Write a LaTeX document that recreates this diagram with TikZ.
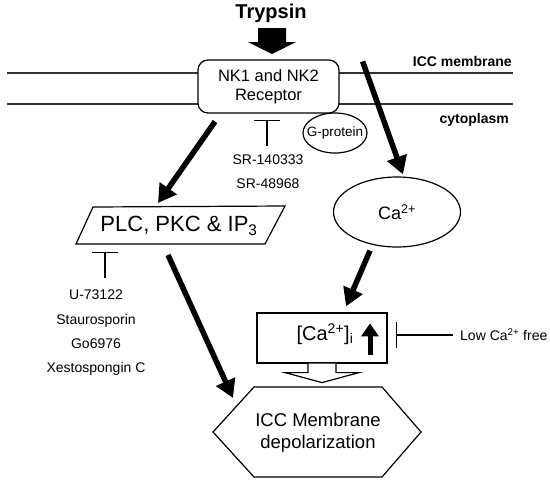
\documentclass[tikz,border=0pt]{standalone}
\usepackage{fontspec}
\setmainfont{Liberation Sans}
\usetikzlibrary{arrows.meta,shapes.geometric,calc}
\begin{document}
\begin{tikzpicture}[x=1pt,y=-1pt,
  thinline/.style={line width=1.2pt},
  membline/.style={line width=1.4pt,draw=black!80},
  bigarrow/.style={line width=5.5pt,-{Triangle[width=20pt,length=18pt]}},
  inhib/.style={line width=1.3pt,-{Bar[width=26pt,line width=1.3pt]}},
  lbl/.style={inner sep=0pt}
]
\useasboundingbox (0,0) rectangle (550,483);
% membrane lines
\draw[membline] (7,73) -- (513,73);
\draw[membline] (7,104) -- (513,104);
\node[lbl,anchor=base east,font=\bfseries\fontsize{14}{17}\selectfont] (memb) at (512,66) {ICC membrane};
\node[lbl,anchor=base east,font=\bfseries\fontsize{14}{17}\selectfont] (cyto) at (509,123) {cytoplasm};
% trypsin
\node[lbl,anchor=base,font=\bfseries\fontsize{20}{24}\selectfont] (tryp) at (271,18) {Trypsin};
\fill (258,28) -- (286,28) -- (286,42) -- (296,42) -- (272,54) -- (248,42) -- (258,42) -- cycle;
% receptor
\node[draw,thinline,fill=white,rounded corners=10pt,minimum width=141pt,minimum height=53pt,
  align=center,font=\fontsize{16.5}{19.5}\selectfont] (rec) at (268.5,86.5) {NK1 and NK2\\Receptor};
% G-protein
\node[lbl,font=\fontsize{13.5}{16}\selectfont] (gp) at (335,133) {G-protein};
\draw[thinline] (gp.center) ellipse [x radius=32, y radius=20];
% SR inhibitors
\node[align=center,lbl,font=\fontsize{14}{24}\selectfont] (sr) at (268,171.5) {SR-140333\\SR-48968};
\draw[inhib] ($(rec.south)+(-1.5,32)$) -- ($(rec.south)+(-1.5,6)$);
% PLC parallelogram
\node[lbl,font=\fontsize{22}{26}\selectfont] (plc) at (179,226) {PLC, PKC \& IP\textsubscript{3}};
\draw[thinline] ($(plc)+(-86,-19)$) -- ($(plc)+(106,-20)$) -- ($(plc)+(86,18)$) -- ($(plc)+(-103,18)$) -- cycle;
\node[align=center,lbl,font=\fontsize{14}{24.3}\selectfont] (inh) at (96,333) {U-73122\\Staurosporin\\Go6976\\Xestospongin C};
\draw[inhib] ($(plc)+(-74,52)$) -- ($(plc)+(-74,26)$);
% Ca ellipse
\node[draw,thinline,ellipse,minimum width=127pt,minimum height=70pt,inner sep=0pt,font=\fontsize{18}{22}\selectfont] (ca) at (397,212) {Ca\textsuperscript{2+}};
% Ca box
\node[draw,thinline,minimum width=130pt,minimum height=50pt] (cabox) at (322,338) {};
\node[lbl,font=\fontsize{20}{24}\selectfont] (cai) at (325,334) {[Ca\textsuperscript{2+}]\textsubscript{i}};
\draw[line width=5pt,-{Triangle[width=17pt,length=13pt]}] ($(cabox.south)+(48,-9)$) -- ($(cabox.north)+(48,11)$);
% low Ca free
\node[lbl,anchor=west,font=\fontsize{14}{17}\selectfont] (low) at (460,335) {Low Ca\textsuperscript{2+} free};
\draw[inhib] ($(low.west)+(-7,0)$) -- ($(cabox.east)+(8,-3)$);
% hollow arrow
\draw[thinline,fill=white] ($(cabox.south)+(-14,0)$) -- ++(0,9) -- ++(-23,0) -- ($(cabox.south)+(0,19)$)
  -- ($(cabox.south)+(37,9)$) -- ++(-23,0) -- ++(0,-9);
% hexagon
\node[align=center,lbl,font=\fontsize{18.5}{22}\selectfont] (hex) at (318,433) {ICC Membrane\\depolarization};
\draw[thinline] ($(hex)+(-105,-1)$) -- ($(hex)+(-64,-46)$) -- ($(hex)+(64,-46)$) -- ($(hex)+(103,-1)$)
  -- ($(hex)+(64,44)$) -- ($(hex)+(-64,44)$) -- cycle;
% big arrows
\draw[bigarrow] ($(rec.south)+(-53.5,8)$) -- ($(plc)+(-21,-23)$);
\draw[bigarrow] ($(rec.north east)+(23,2)$) -- ($(ca.north)+(6,-2)$);
\draw[bigarrow] ($(ca.south)+(-27,3)$) -- ($(cabox.north)+(24,-6)$);
\draw[bigarrow] ($(plc)+(-11,29)$) -- ($(hex)+(-85,-35)$);
\end{tikzpicture}
\end{document}
